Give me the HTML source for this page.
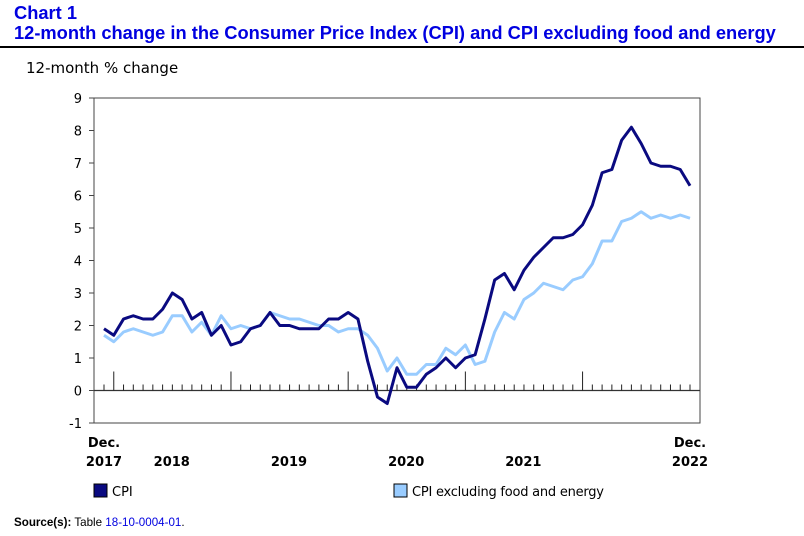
<!DOCTYPE html>
<html><head><meta charset="utf-8"><style>
body{margin:0;background:#fff;font-family:Verdana,"DejaVu Sans",sans-serif;}
#wrap{position:relative;width:804px;height:536px;overflow:hidden;}
.t{position:absolute;font-family:"Liberation Sans",Arial,sans-serif;font-weight:bold;color:#0000e0;font-size:18.3px;left:14px;}
</style></head><body>
<div id="wrap">
<div class="t" style="top:2px">Chart 1</div>
<div class="t" style="top:22px">12-month change in the Consumer Price Index (CPI) and CPI excluding food and energy</div>
<div style="position:absolute;left:0;top:46px;width:804px;height:2px;background:#000"></div>
<svg id="c" width="804" height="536" style="position:absolute;left:0;top:0" font-family="DejaVu Sans, sans-serif" font-size="13"></svg>
</div>
<script>
const cpi=[1.9,1.7,2.2,2.3,2.2,2.2,2.5,3.0,2.8,2.2,2.4,1.7,2.0,1.4,1.5,1.9,2.0,2.4,2.0,2.0,1.9,1.9,1.9,2.2,2.2,2.4,2.2,0.9,-0.2,-0.4,0.7,0.1,0.1,0.5,0.7,1.0,0.7,1.0,1.1,2.2,3.4,3.6,3.1,3.7,4.1,4.4,4.7,4.7,4.8,5.1,5.7,6.7,6.8,7.7,8.1,7.6,7.0,6.9,6.9,6.8,6.3];
const core=[1.7,1.5,1.8,1.9,1.8,1.7,1.8,2.3,2.3,1.8,2.1,1.7,2.3,1.9,2.0,1.9,2.0,2.4,2.3,2.2,2.2,2.1,2.0,2.0,1.8,1.9,1.9,1.7,1.3,0.6,1.0,0.5,0.5,0.8,0.8,1.3,1.1,1.4,0.8,0.9,1.8,2.4,2.2,2.8,3.0,3.3,3.2,3.1,3.4,3.5,3.9,4.6,4.6,5.2,5.3,5.5,5.3,5.4,5.3,5.4,5.3];
const yTicks=[-1,0,1,2,3,4,5,6,7,8,9];
const yearLabels=["2018","2019","2020","2021"];
const NS="http://www.w3.org/2000/svg",svg=document.getElementById('c');
const X=i=>104+i*(586/60), Y=v=>390.5-v*32.5;
function mk(t,a,p){const e=document.createElementNS(NS,t);for(const k in a)e.setAttribute(k,a[k]);(p||svg).appendChild(e);return e;}
let e;
e=mk('text',{x:26,y:73,'font-size':15});e.textContent='12-month % change';


e=mk('rect',{x:94,y:98,width:606,height:325,fill:'none',stroke:'#444','stroke-width':1});


yTicks.forEach(v=>{const t=mk('text',{x:82,y:Y(v)+5,'text-anchor':'end'});t.textContent=v;


mk('line',{x1:89,x2:94,y1:Y(v),y2:Y(v),stroke:'#444'});});
e=mk('line',{x1:94,x2:700,y1:Y(0),y2:Y(0),stroke:'#333','stroke-width':1.2});


for(let i=0;i<cpi.length;i++){const maj=(i%12===1);mk('line',{x1:X(i),x2:X(i),y1:Y(0),y2:Y(0)-(maj?19:6),stroke:'#222'});}
function line(d,col,name){const p=mk('polyline',{points:d.map((v,i)=>X(i)+','+Y(v)).join(' '),fill:'none',stroke:col,'stroke-width':3,'stroke-linejoin':'round'});

}
line(core,'#99ccff','series-cpi-excl-food-energy');
line(cpi,'#0a0a80','series-cpi');
function txt(x,y,s,a,n){const t=mk('text',{x:x,y:y,'text-anchor':a||'middle','font-weight':'bold'});t.textContent=s;

}
txt(104,447,'Dec.','middle','x-label-dec-2017');txt(104,466,'2017','middle','x-label-2017');
yearLabels.forEach((s,k)=>txt(X(1+12*k)+58,466,s,'middle','x-label-year'));
txt(690,447,'Dec.','middle','x-label-dec-2022');txt(690,466,'2022','middle','x-label-2022');
e=mk('rect',{x:94,y:484,width:13,height:13,fill:'#0a0a80',stroke:'#000'});


e=mk('text',{x:112,y:496});e.textContent='CPI';


e=mk('rect',{x:394,y:484,width:13,height:13,fill:'#99ccff',stroke:'#000'});


e=mk('text',{x:412,y:496,textLength:192});e.textContent='CPI excluding food and energy';


e=mk('text',{x:14,y:526,'font-size':11.6,'font-family':'Liberation Sans, Arial, sans-serif'});
e.innerHTML='<tspan font-weight="bold">Source(s):</tspan> Table <tspan fill="#0000e0">18-10-0004-01</tspan>.';


</script>
</body></html>
